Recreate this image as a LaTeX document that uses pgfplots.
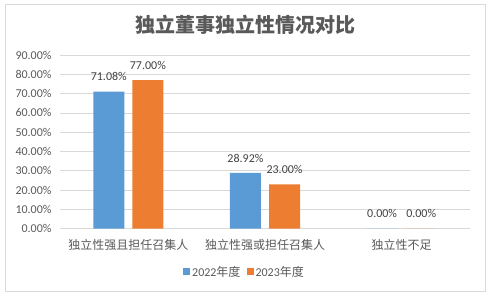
\documentclass[border=0pt]{standalone}
\usepackage{fontspec}
\setmainfont{Carlito}
\newfontfamily\cjk{Noto Sans CJK SC}
\usepackage{pgfplots}
\pgfplotsset{compat=1.18}
\definecolor{cblue}{HTML}{5B9BD5}
\definecolor{corange}{HTML}{ED7D31}
\definecolor{gridc}{HTML}{D9D9D9}
\definecolor{txt}{HTML}{595959}
\definecolor{lbl}{HTML}{404040}
\begin{document}
\begin{tikzpicture}
\path[use as bounding box] (0pt,0pt) rectangle (494pt,299pt);
\draw[gridc, line width=0.8pt] (5pt,8pt) rectangle (485pt,295pt);
\node[txt, font=\cjk\bfseries\fontsize{20}{24}\selectfont] at (245.5pt,274pt) {独立董事独立性情况对比};
\begin{axis}[
  at={(60pt,70.3pt)}, anchor=south west, scale only axis,
  width=410pt, height=173.7pt,
  xmin=-0.5, xmax=2.5, ymin=0, ymax=90,
  ybar, bar width=0.227,
  xtick={0,1,2},
  xticklabels={独立性强且担任召集人,独立性强或担任召集人,独立性不足},
  ytick={0,10,...,90},
  /pgf/number format/assume math mode=true,
  yticklabel={\pgfmathprintnumber[fixed,fixed zerofill,precision=2]{\tick}\%},
  major tick length=0pt,
  axis line style={draw=none},
  ymajorgrids, grid style={gridc, line width=0.8pt},
  yticklabel style={font=\fontsize{12}{14}\selectfont, text=txt, xshift=-5pt},
  xticklabel style={font=\cjk\fontsize{12}{14}\selectfont, text=txt, yshift=-7.5pt},
  nodes near coords={\pgfmathprintnumber[fixed,fixed zerofill,precision=2]{\pgfplotspointmeta}\%},
  every node near coord/.append style={font=\fontsize{12}{14}\selectfont, text=lbl, anchor=base, yshift=10.8pt},
  legend columns=2,
  legend style={draw=none, fill=none, at={(0.45,-0.2475)}, anchor=center,
    font=\fontsize{12}{14}\selectfont, text=txt,
    /tikz/every even column/.append style={column sep=4pt}},
  legend image code/.code={\fill[#1] (0pt,-3.5pt) rectangle (7pt,3.5pt);},
]
\addplot[fill=cblue, draw=none, bar shift=-0.143] coordinates {(0,71.08) (1,28.92) (2,0)};
\addplot[fill=corange, draw=none, bar shift=0.143] coordinates {(0,77.00) (1,23.00) (2,0)};
\legend{{2022{\cjk 年度}},{2023{\cjk 年度}}}
\end{axis}
\end{tikzpicture}
\end{document}
